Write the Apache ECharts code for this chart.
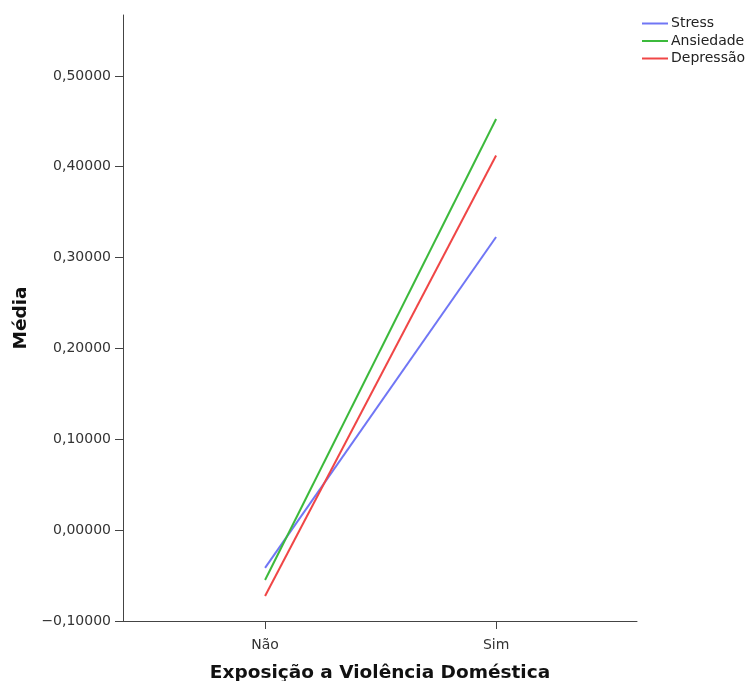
<!DOCTYPE html>
<html><head><meta charset="utf-8">
<script src="https://cdn.jsdelivr.net/npm/echarts@6/dist/echarts.min.js"></script>
<style>html,body{margin:0;padding:0;background:#fff}#c{width:747px;height:681px}</style>
</head><body><div id="c"></div>
<script>
const categories = ['Não', 'Sim'];
const stress = [-0.0416, 0.3226];
const ansiedade = [-0.0548, 0.4525];
const depressao = [-0.0725, 0.4124];
const yTicks = [-0.1, 0, 0.1, 0.2, 0.3, 0.4, 0.5];
const FONT = 'DejaVu Sans';

function pts(arr){ return arr.map((v,i)=>[i,v]); }
const chart = echarts.init(document.getElementById('c'));
chart.setOption({
  animation:false,
  backgroundColor:'#fff',
  grid:{left:123,right:110,top:15,bottom:60,containLabel:false,outerBoundsMode:'none'},
  legend:{
    orient:'vertical', left:642, top:16, itemWidth:26, itemHeight:2, itemGap:2.5, padding:0,
    icon:'rect',
    textStyle:{fontFamily:FONT,fontSize:14,lineHeight:15,color:'#222',padding:[0,0,0,-2]},
    data:['Stress','Ansiedade','Depressão']
  },
  xAxis:{
    type:'value', min:-0.615, max:1.61,
    name:'Exposição a Violência Doméstica', nameLocation:'middle', nameGap:43, nameMoveOverlap:false,
    nameTextStyle:{fontFamily:FONT,fontSize:18.5,fontWeight:'bold',color:'#111'},
    axisLine:{onZero:false,lineStyle:{color:'#444',width:1}},
    axisTick:{show:true,customValues:[0,1],length:8,lineStyle:{color:'#444'}},
    axisLabel:{customValues:[0,1],formatter:v=>categories[Math.round(v)],fontFamily:FONT,fontSize:14,color:'#333',margin:17},
    splitLine:{show:false}
  },
  yAxis:{
    type:'value', min:-0.1, max:0.567,
    name:'Média', nameLocation:'middle', nameGap:92, nameRotate:90, nameMoveOverlap:false,
    nameTextStyle:{fontFamily:FONT,fontSize:18.5,fontWeight:'bold',color:'#111'},
    axisLine:{show:true,onZero:false,lineStyle:{color:'#444',width:1}},
    axisTick:{show:true,customValues:yTicks,length:8,lineStyle:{color:'#444'}},
    axisLabel:{customValues:yTicks,formatter:v=>(v<0?'\u2212':'')+Math.abs(v).toFixed(5).replace('.',','),fontFamily:FONT,fontSize:14,color:'#333',margin:12},
    splitLine:{show:false}
  },
  series:[
    {name:'Stress',type:'line',data:pts(stress),symbol:'none',lineStyle:{color:'#7076f5',width:2},itemStyle:{color:'#7076f5'}},
    {name:'Ansiedade',type:'line',data:pts(ansiedade),symbol:'none',lineStyle:{color:'#3cba3c',width:2},itemStyle:{color:'#3cba3c'}},
    {name:'Depressão',type:'line',data:pts(depressao),symbol:'none',lineStyle:{color:'#f04646',width:2},itemStyle:{color:'#f04646'}}
  ]
});
</script></body></html>
